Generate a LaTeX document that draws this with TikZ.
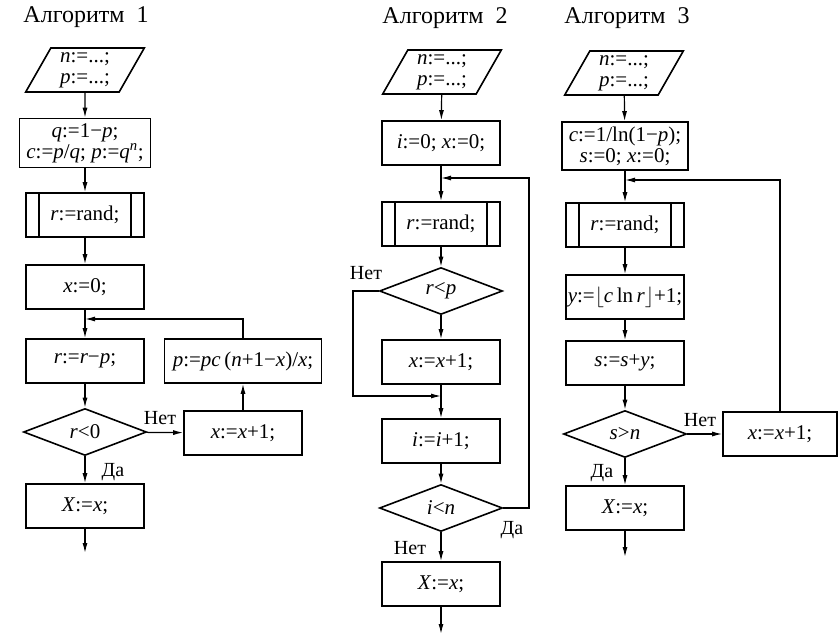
\documentclass[tikz,border=0pt]{standalone}
\usepackage{fontspec}
\setmainfont{Liberation Serif}
\usetikzlibrary{shapes.geometric,arrows.meta}
\tikzset{
  blk/.style={draw,line width=1.6pt,rectangle,minimum width=118pt,minimum height=44pt,inner sep=1pt,align=center,font=\fontsize{21}{21}\selectfont},
  subr/.style={blk,path picture={\draw[line width=1.6pt]
    ([xshift=13pt]path picture bounding box.north west) -- ([xshift=13pt]path picture bounding box.south west)
    ([xshift=-13pt]path picture bounding box.north east) -- ([xshift=-13pt]path picture bounding box.south east);}},
  io/.style={blk,trapezium,trapezium left angle=63,trapezium right angle=117,trapezium stretches=true,minimum width=119pt},
  cond/.style={blk,diamond,aspect=2.6,minimum width=123pt,minimum height=47pt},
  lbl/.style={font=\fontsize{20}{20}\selectfont,inner sep=0pt},
  ttl/.style={font=\fontsize{24}{24}\selectfont,inner sep=0pt},
  ar/.style={-{Latex[length=10pt,width=5pt]},line width=1.2pt},
}
\begin{document}
\begin{tikzpicture}[x=1pt,y=-1pt]
\useasboundingbox (0,0) rectangle (838,636);
\node[ttl] (t1) at (86,17) {Алгоритм\hspace{0.5em}1};
\node[ttl] (t2) at (445,18) {Алгоритм\hspace{0.5em}2};
\node[ttl] (t3) at (627,18) {Алгоритм\hspace{0.5em}3};

\node[io] (in1) at (85,70) {\textit{n}:=...;\\\textit{p}:=...;};
\node[blk,minimum width=131pt,minimum height=49pt] (a1) at (85,143) {\textit{q}:=1−\textit{p};\\\textit{c}:=\textit{p}/\textit{q}; \textit{p}:=\textit{q}\textsuperscript{\textit{n}};};
\node[subr] (r1) at (85,215) {\textit{r}:=rand;};
\node[blk] (x1) at (85,287) {\textit{x}:=0;};
\node[blk] (s1) at (85,361) {\textit{r}:=\textit{r}−\textit{p};};
\node[blk,minimum width=157pt] (p1) at (243,361) {\textit{p}:=\textit{pc}\,(\textit{n}+1−\textit{x})/\textit{x};};
\node[cond] (d1) at (85,432) {\textit{r}<0};
\node[blk] (inc1) at (243,433) {\textit{x}:=\textit{x}+1;};
\node[blk] (out1) at (85,506) {\textit{X}:=\textit{x};};
\coordinate (j1) at (85,319);
\coordinate (e1) at (85,553);
\node[lbl] (no1) at (160,418) {Нет};
\node[lbl] (yes1) at (113,472) {Да};
\draw[ar] (in1) -- (a1);
\draw[ar] (a1) -- (r1);
\draw[ar] (r1) -- (x1);
\draw[ar] (x1) -- (s1);
\draw[ar] (s1) -- (d1);
\draw[ar] (d1) -- (out1);
\draw[ar] (d1) -- (inc1);
\draw[ar] (inc1) -- (p1);
\draw[ar] (p1.north) |- (j1);
\draw[ar] (out1) -- (e1);

\node[io] (in2) at (442,72) {\textit{n}:=...;\\\textit{p}:=...;};
\node[blk] (a2) at (441,143) {\textit{i}:=0; \textit{x}:=0;};
\node[subr] (r2) at (441,224) {\textit{r}:=rand;};
\node[cond] (d2) at (441,291) {\textit{r}<\textit{p}};
\node[blk] (inc2) at (441,362) {\textit{x}:=\textit{x}+1;};
\node[blk] (i2) at (441,441) {\textit{i}:=\textit{i}+1;};
\node[cond] (d3) at (441,508) {\textit{i}<\textit{n}};
\node[blk] (out2) at (441,584) {\textit{X}:=\textit{x};};
\coordinate (j2) at (441,178);
\coordinate (k2) at (529,178);
\coordinate (j2b) at (441,396);
\coordinate (l2) at (353,396);
\coordinate (e2) at (441,634);
\node[lbl] (no2) at (366,273) {Нет};
\node[lbl] (yes2) at (512,530) {Да};
\node[lbl] (no3) at (410,548) {Нет};
\draw[ar] (in2) -- (a2);
\draw[ar] (a2) -- (r2);
\draw[ar] (r2) -- (d2);
\draw[ar] (d2) -- (inc2);
\draw[ar] (inc2) -- (i2);
\draw[ar] (i2) -- (d3);
\draw[ar] (d3) -- (out2);
\draw[ar] (out2) -- (e2);
\draw[ar] (d2.west) -| (l2) -- (j2b);
\draw[ar] (d3.east) -| (k2) -- (j2);

\node[io] (in3) at (624,73) {\textit{n}:=...;\\\textit{p}:=...;};
\node[blk,minimum width=126pt,minimum height=48pt] (a3) at (625,146) {\textit{c}:=1/ln(1−\textit{p});\\\textit{s}:=0; \textit{x}:=0;};
\node[subr] (r3) at (625,225) {\textit{r}:=rand;};
\node[blk] (y3) at (625,297) {\textit{y}:=$\lfloor$\textit{c}\,ln\,\textit{r}$\rfloor$+1;};
\node[blk] (s3) at (625,363) {\textit{s}:=\textit{s}+\textit{y};};
\node[cond] (d4) at (625,434) {\textit{s}>\textit{n}};
\node[blk,minimum width=114pt] (inc3) at (780,434) {\textit{x}:=\textit{x}+1;};
\node[blk] (out3) at (625,508) {\textit{X}:=\textit{x};};
\coordinate (j3) at (625,180);
\coordinate (e3) at (625,557);
\node[lbl] (no4) at (700,420) {Нет};
\node[lbl] (yes4) at (602,473) {Да};
\draw[ar] (in3) -- (a3);
\draw[ar] (a3) -- (r3);
\draw[ar] (r3) -- (y3);
\draw[ar] (y3) -- (s3);
\draw[ar] (s3) -- (d4);
\draw[ar] (d4) -- (out3);
\draw[ar] (d4) -- (inc3);
\draw[ar] (inc3.north) |- (j3);
\draw[ar] (out3) -- (e3);
\end{tikzpicture}
\end{document}
